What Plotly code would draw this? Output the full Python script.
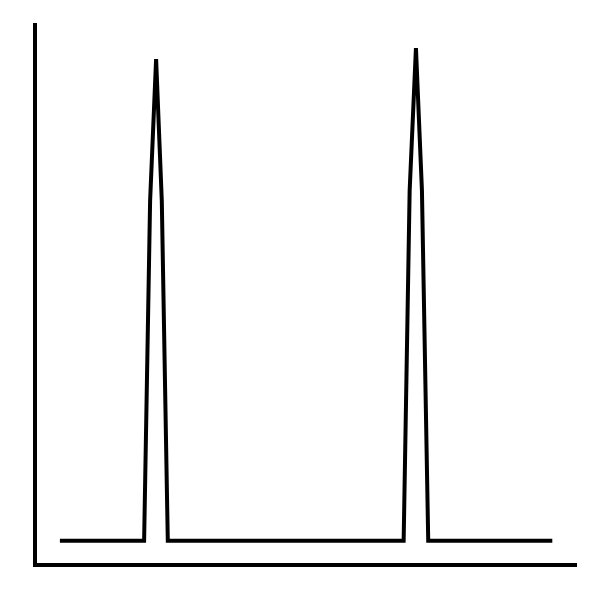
import plotly.graph_objects as go

# Signal trace: x positions (arbitrary units) and intensity values
x_vals = [-0.1, 13.95, 14.95, 15.95, 16.9, 17.9, 57.25, 58.25, 59.3, 60.3, 61.35, 82.05]
y_vals = [0, 0, 70.6, 100, 70.6, 0, 0, 72.7, 102.3, 72.7, 0, 0]

x_range = [-3.92, 86.17]
y_range = [-4.6, 107.5]

fig = go.Figure()
fig.add_trace(go.Scatter(
    x=x_vals, y=y_vals, mode="lines",
    line=dict(color="black", width=4),
    showlegend=False, hoverinfo="skip",
))

fig.update_layout(
    width=600, height=600,
    margin=dict(l=36.5, r=23, t=22.7, b=37),
    paper_bgcolor="white", plot_bgcolor="white",
    xaxis=dict(range=x_range, showline=True, linecolor="black", linewidth=4,
               showgrid=False, zeroline=False, showticklabels=False, ticks=""),
    yaxis=dict(range=y_range, showline=True, linecolor="black", linewidth=4,
               showgrid=False, zeroline=False, showticklabels=False, ticks=""),
)

fig.write_html("out.html")
